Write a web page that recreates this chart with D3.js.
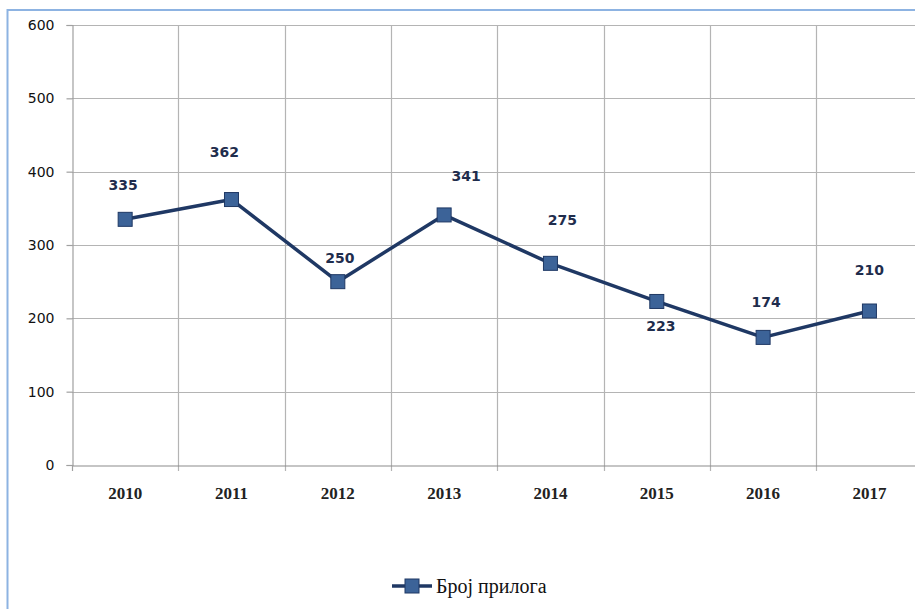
<!DOCTYPE html>
<html>
<head>
<meta charset="utf-8">
<script src="https://cdn.jsdelivr.net/npm/d3@7"></script>
<style>
  body { margin: 0; background: #fff; }
  svg { display: block; }
</style>
</head>
<body>
<div id="chart"></div>
<script>
// chart data
var years = ["2010", "2011", "2012", "2013", "2014", "2015", "2016", "2017"];
var counts = [335, 362, 250, 341, 275, 223, 174, 210];
var yTicks = [0, 100, 200, 300, 400, 500, 600];
var seriesName = "Број прилога";

var width = 915, height = 609;
var margin = {top: 25, left: 72, bottom: 465};
var plotRight = 922.6;

var svg = d3.select("#chart").append("svg")
    .attr("width", width)
    .attr("height", height);

// outer frame (blue border, cut at right and bottom)
svg.append("path")
    .attr("d", "M7.5," + height + " V10 H" + width)
    .attr("fill", "none")
    .attr("stroke", "#8db3e2")
    .attr("stroke-width", 2);

var x = d3.scaleBand()
    .domain(years)
    .range([margin.left, plotRight]);

var y = d3.scaleLinear()
    .domain([0, 600])
    .range([margin.bottom, margin.top]);

// horizontal gridlines
svg.append("g").selectAll("line")
    .data(yTicks.filter(function(d) { return d > 0; }))
    .enter().append("line")
    .attr("x1", margin.left)
    .attr("x2", plotRight)
    .attr("y1", function(d) { return Math.round(y(d)) + 0.5; })
    .attr("y2", function(d) { return Math.round(y(d)) + 0.5; })
    .attr("stroke", "#b4b4b4")
    .attr("stroke-width", 1.2);

// vertical gridlines at category boundaries
svg.append("g").selectAll("line")
    .data(years.slice(1))
    .enter().append("line")
    .attr("x1", function(d) { return Math.round(x(d)) + 0.5; })
    .attr("x2", function(d) { return Math.round(x(d)) + 0.5; })
    .attr("y1", margin.top)
    .attr("y2", margin.bottom + 6)
    .attr("stroke", "#b4b4b4")
    .attr("stroke-width", 1.2);

// y axis
var yAxis = d3.axisLeft(y)
    .tickValues(yTicks)
    .tickSize(6)
    .tickPadding(12);

var yg = svg.append("g")
    .attr("transform", "translate(" + (margin.left + 0.5) + ",0)")
    .call(yAxis);
yg.select(".domain").attr("stroke", "#a0a0a0").attr("stroke-width", 1.2);
yg.selectAll(".tick line").attr("stroke", "#a0a0a0").attr("stroke-width", 1.2);
yg.selectAll(".tick text")
    .attr("font-family", "DejaVu Sans, sans-serif")
    .attr("font-size", 14)
    .attr("fill", "#111");

// x axis
var xg = svg.append("g")
    .attr("transform", "translate(0," + (margin.bottom + 0.5) + ")")
    .call(d3.axisBottom(x).tickSize(0).tickPadding(21));
xg.select(".domain").attr("stroke", "#8c8c8c").attr("stroke-width", 1.2);
xg.selectAll(".tick text")
    .attr("font-family", "Liberation Serif, serif")
    .attr("font-size", 17)
    .attr("font-weight", "bold")
    .attr("fill", "#222");
svg.append("line")
    .attr("x1", margin.left + 0.5).attr("x2", margin.left + 0.5)
    .attr("y1", margin.bottom).attr("y2", margin.bottom + 6)
    .attr("stroke", "#a0a0a0").attr("stroke-width", 1.2);

// series line
var cx = function(d, i) { return x(years[i]) + x.bandwidth() / 2; };
var line = d3.line()
    .x(cx)
    .y(function(d) { return y(d); });

svg.append("path")
    .datum(counts)
    .attr("d", line)
    .attr("fill", "none")
    .attr("stroke", "#1f3864")
    .attr("stroke-width", 3.5)
    .attr("stroke-linejoin", "round");

// markers
var ms = 14;
svg.append("g").selectAll("rect")
    .data(counts)
    .enter().append("rect")
    .attr("x", function(d, i) { return cx(d, i) - ms / 2; })
    .attr("y", function(d) { return y(d) - ms / 2; })
    .attr("width", ms)
    .attr("height", ms)
    .attr("fill", "#3c6398")
    .attr("stroke", "#1f3864")
    .attr("stroke-width", 1);

// data labels (manually placed, offsets in px)
var labelDx = [-2, -7, 2, 22, 12, 4, 3, 0];
var labelDy = [-34, -47, -24, -39, -43, 25, -35, -41];
svg.append("g").selectAll("text")
    .data(counts)
    .enter().append("text")
    .attr("x", function(d, i) { return cx(d, i) + labelDx[i]; })
    .attr("y", function(d, i) { return y(d) + labelDy[i]; })
    .attr("dy", "0.35em")
    .attr("text-anchor", "middle")
    .attr("font-family", "DejaVu Sans, sans-serif")
    .attr("font-weight", "bold")
    .attr("font-size", 14)
    .attr("fill", "#1f2d4d")
    .text(function(d) { return d; });

// legend
var lg = svg.append("g").attr("transform", "translate(392,586)");
lg.append("line")
    .attr("x1", 0).attr("x2", 40)
    .attr("y1", 0).attr("y2", 0)
    .attr("stroke", "#1f3864")
    .attr("stroke-width", 3.5);
lg.append("rect")
    .attr("x", 13).attr("y", -7)
    .attr("width", 14).attr("height", 14)
    .attr("fill", "#3c6398")
    .attr("stroke", "#1f3864");
lg.append("text")
    .attr("x", 44)
    .attr("y", 7)
    .attr("font-family", "Liberation Serif, serif")
    .attr("font-size", 20)
    .attr("fill", "#111")
    .text(seriesName);
</script>
</body>
</html>
